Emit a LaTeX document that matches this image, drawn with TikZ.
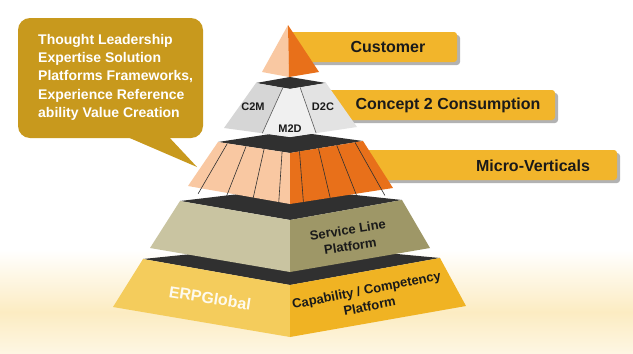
\documentclass[tikz,border=0pt]{standalone}
\usepackage{fontspec}
\setmainfont{Liberation Sans}
\usetikzlibrary{calc}

\definecolor{peach}{HTML}{F9C8A2}
\definecolor{tangerine}{HTML}{E8701A}
\definecolor{slate}{HTML}{303030}
\definecolor{khakilight}{HTML}{C9C4A1}
\definecolor{khakidark}{HTML}{9E9767}
\definecolor{sunlight}{HTML}{F4CC5C}
\definecolor{sundark}{HTML}{F0B323}
\definecolor{bannergold}{HTML}{F2B52B}
\definecolor{bubblegold}{HTML}{C8991D}
\definecolor{cream}{HTML}{FCECC2}
\definecolor{ink}{HTML}{1A1A1A}

\tikzset{
  banner/.style={fill=bannergold, rounded corners=3},
  bannershadow/.style={fill=black, opacity=0.3, rounded corners=3},
  bannertext/.style={font=\fontsize{16}{18}\selectfont\bfseries, text=ink},
  facetext/.style={font=\fontsize{13}{16.5}\selectfont\bfseries, text=ink, align=center},
  tagtext/.style={font=\fontsize{11}{13}\selectfont\bfseries, text=ink},
  stripe/.style={slate, line width=0.6pt}
}

\begin{document}
\begin{tikzpicture}[x=1pt, y=-1pt]
\useasboundingbox (0,0) rectangle (633,354);

% Background glow
\fill[white] (0,0) rectangle (633,354);
\shade[top color=white, bottom color=cream] (0,250) rectangle (633,312);
\shade[top color=cream, bottom color=cream!45] (0,312) rectangle (633,354);

% Speech bubble
\fill[bubblegold, rounded corners=12] (18,18) rectangle (203,138);
\fill[bubblegold] (125,136) -- (197,167) -- (168,136) -- cycle;
\node[anchor=north west, inner sep=0, align=left, text=white,
      font=\fontsize{14}{18.3}\selectfont\bfseries] (vision) at (38,34)
  {Thought Leadership\\Expertise Solution\\Platforms Frameworks,\\Experience Reference\\ability Value Creation};

% Banners (behind the pyramid)
\fill[bannershadow] (292,35) rectangle (460,65);
\fill[banner] (290,32) rectangle (457,62);
\fill[bannershadow] (302,93) rectangle (558,123);
\fill[banner] (300,90) rectangle (555,120);
\fill[bannershadow] (302,153) rectangle (620,183);
\fill[banner] (300,150) rectangle (617,180);

\node[bannertext] (customer) at (388,47) {Customer};
\node[bannertext] (concept) at (448,105) {Concept 2 Consumption};
\node[bannertext] (micro) at (533,166) {Micro-Verticals};

% Base tier
\fill[slate] (143,259) -- (290,244) -- (440,258) -- (290,285) -- cycle;
\fill[sunlight] (143,259) -- (290,285) -- (290,337) -- (113,307) -- cycle;
\fill[sundark] (290,285) -- (440,258) -- (466,306) -- (290,337) -- cycle;
\node[facetext, rotate=11] (capability) at (368,298) {Capability / Competency\\Platform};
\node[font=\fontsize{16}{18}\selectfont\bfseries, text=white, opacity=0.9, rotate=-9]
  (brand) at (210,298) {ERPGlobal};

% Service line tier
\fill[slate] (180,201) -- (290,188) -- (402,200) -- (290,220) -- cycle;
\fill[khakilight] (180,201) -- (290,220) -- (290,272) -- (150,248) -- cycle;
\fill[khakidark] (290,220) -- (402,200) -- (430,248) -- (290,272) -- cycle;
\node[facetext, rotate=9] (service) at (349,238) {Service Line\\Platform};

% Micro-verticals tier
\coordinate (mL) at (218,142);
\coordinate (mR) at (363,141);
\coordinate (mF) at (290,153);
\coordinate (mLb) at (188,186);
\coordinate (mRb) at (393,188);
\coordinate (mFb) at (290,204);
\fill[slate] (mL) -- (290,131) -- (mR) -- (mF) -- cycle;
\fill[peach] (mL) -- (mF) -- (mFb) -- (mLb) -- cycle;
\fill[tangerine] (mF) -- (mR) -- (mRb) -- (mFb) -- cycle;
\foreach \f in {0.13,0.39,0.64,0.89}{
  \draw[stripe] ($(mL)!\f!(mF)$) -- ($($(mL)!\f!(mF)$)!1.12!($(mLb)!\f!(mFb)$)$);
  \draw[stripe] ($(mF)!\f!(mR)$) -- ($($(mF)!\f!(mR)$)!1.12!($(mFb)!\f!(mRb)$)$);
}

% Concept tier
\coordinate (cL) at (256,83);
\coordinate (cR) at (326,83);
\coordinate (cF) at (290,89);
\coordinate (cLb) at (224,128);
\coordinate (cRb) at (357,127);
\coordinate (cFb) at (290,137);
\fill[slate] (cL) -- (290,77) -- (cR) -- (cF) -- cycle;
\fill[black!16] (cL) -- (cF) -- (cFb) -- (cLb) -- cycle;
\fill[black!11] (cF) -- (cR) -- (cRb) -- (cFb) -- cycle;
\fill[black!6] ($(cL)!0.79!(cF)$) -- (cF) -- ($(cF)!0.28!(cR)$)
  -- ($(cFb)!0.39!(cRb)$) -- (cFb) -- ($(cLb)!0.58!(cFb)$) -- cycle;
\draw[slate!80, line width=0.6pt] ($(cL)!0.79!(cF)$) -- ($(cLb)!0.58!(cFb)$);
\draw[slate!80, line width=0.6pt] ($(cF)!0.28!(cR)$) -- ($(cFb)!0.39!(cRb)$);
\node[tagtext] (c2m) at (253,107) {C2M};
\node[tagtext] (d2c) at (323,107) {D2C};
\node[tagtext] (m2d) at (290,129) {M2D};

% Customer tip
\fill[peach] (288,25) -- (262,72) -- (289,77) -- cycle;
\fill[tangerine] (288,25) -- (289,77) -- (319,72) -- cycle;

\end{tikzpicture}
\end{document}
